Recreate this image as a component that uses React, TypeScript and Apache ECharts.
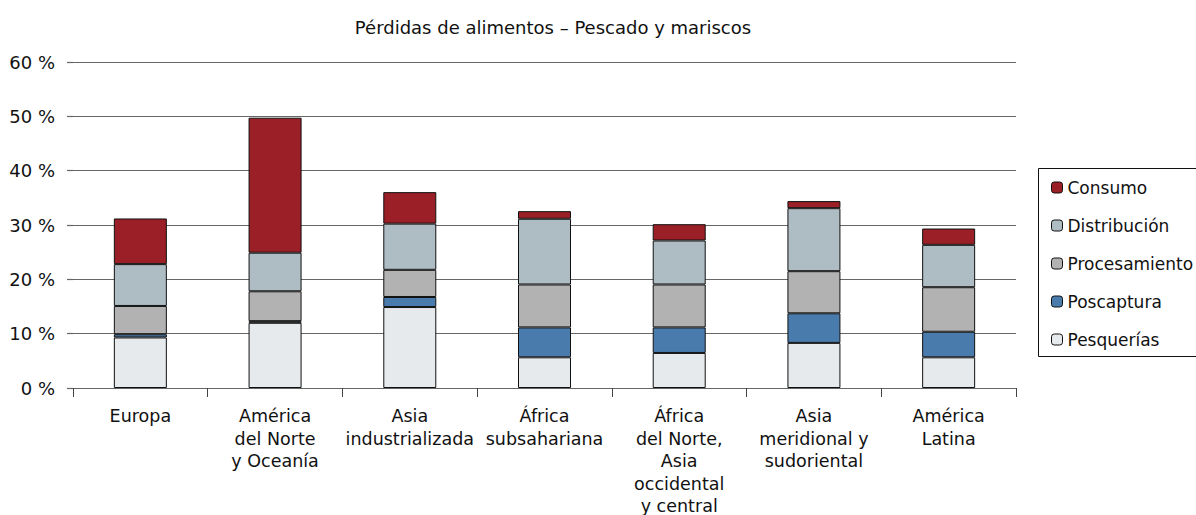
import React, { useEffect, useRef } from "react";
import * as echarts from "echarts";

const categories = [
  "Europa",
  "América\ndel Norte\ny Oceanía",
  "Asia\nindustrializada",
  "África\nsubsahariana",
  "África\ndel Norte,\nAsia\noccidental\ny central",
  "Asia\nmeridional y\nsudoriental",
  "América\nLatina",
];

const pesquerias = [9.3, 12.0, 14.9, 5.65, 6.45, 8.3, 5.65];
const poscaptura = [0.6, 0.3, 1.85, 5.5, 4.7, 5.45, 4.7];
const procesamiento = [5.2, 5.5, 5.0, 7.9, 7.9, 7.75, 8.2];
const distribucion = [7.7, 7.1, 8.5, 12.1, 8.1, 11.6, 7.8];
const consumo = [8.4, 24.85, 5.8, 1.4, 3.0, 1.3, 3.0];

const yTicks = [0, 10, 20, 30, 40, 50, 60];

const FONT = "'DejaVu Sans', 'Noto Sans', sans-serif";

export default function App() {
  const ref = useRef<HTMLDivElement>(null);
  useEffect(() => {
    if (!ref.current) return;
    const chart = echarts.init(ref.current, undefined, { renderer: "svg" });
    const mk = (name: string, data: number[], color: string) => ({
      name,
      type: "bar",
      stack: "t",
      data,
      barWidth: 53,
      itemStyle: { color, borderColor: "#111", borderWidth: 1 },
    });
    chart.setOption({
      animation: false,
      textStyle: { fontFamily: FONT },
      title: {
        text: "Pérdidas de alimentos – Pescado y mariscos",
        left: 548,
        top: 13,
        textAlign: "center",
        textStyle: { fontFamily: FONT, fontSize: 18, fontWeight: "normal", color: "#111" },
      },
      graphic: [
        {
          type: "rect",
          shape: { x: 1038.5, y: 168.5, width: 170, height: 188 },
          style: { fill: "none", stroke: "#111", lineWidth: 1 },
        },
      ],
      legend: {
        orient: "vertical",
        left: 1046,
        top: 173,
        itemWidth: 11,
        itemHeight: 11,
        itemGap: 19,
        data: ["Consumo", "Distribución", "Procesamiento", "Poscaptura", "Pesquerías"],
        textStyle: { fontFamily: FONT, fontSize: 17, color: "#111", lineHeight: 19 },
        itemStyle: { borderColor: "#111", borderWidth: 1 },
      },
      grid: { left: 73, right: 180, top: 62, bottom: 127, containLabel: false, outerBoundsMode: "none" },
      xAxis: {
        type: "category",
        data: categories,
        axisLine: { lineStyle: { color: "#666", width: 1.2 } },
        axisTick: { show: true, length: 9, lineStyle: { color: "#444" } },
        axisLabel: {
          fontFamily: FONT,
          fontSize: 17.5,
          color: "#111",
          lineHeight: 22.5,
          margin: 17,
          interval: 0,
        },
      },
      yAxis: {
        type: "value",
        min: yTicks[0],
        max: yTicks[yTicks.length - 1],
        interval: 10,
        axisLine: { show: false },
        axisTick: { show: true, length: 6, lineStyle: { color: "#666", width: 1.2 } },
        splitLine: { lineStyle: { color: "#666", width: 1.2 } },
        axisLabel: {
          formatter: "{value} %",
          fontFamily: FONT,
          fontSize: 18,
          color: "#111",
          margin: 18,
        },
      },
      series: [
        mk("Pesquerías", pesquerias, "#e6eaed"),
        mk("Poscaptura", poscaptura, "#4a7bad"),
        mk("Procesamiento", procesamiento, "#b2b2b3"),
        mk("Distribución", distribucion, "#aebcc3"),
        mk("Consumo", consumo, "#9b1f27"),
      ],
    });
    return () => chart.dispose();
  }, []);
  return (
    <div
      ref={ref}
      style={{ position: "fixed", left: 0, top: 0, width: 1196, height: 515, background: "#fff" }}
    />
  );
}
